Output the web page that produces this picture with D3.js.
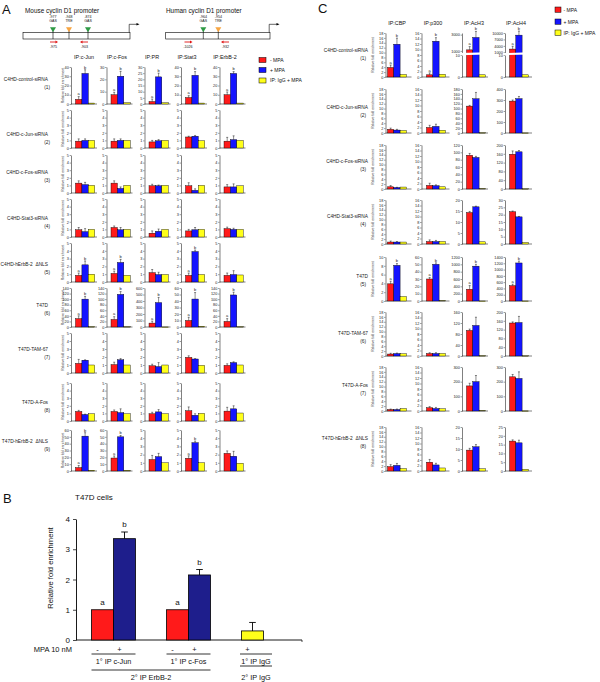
<!DOCTYPE html>
<html><head><meta charset="utf-8">
<script src="https://cdn.jsdelivr.net/npm/d3@7"></script>
<style>body{margin:0;background:#fff}svg{display:block}</style>
</head><body><svg id="c" width="600" height="682"></svg>
<script>
// ---------------- DATA ----------------
// Panel A
const aCols = ["IP:c-Jun","IP:c-Fos","IP:PR","IP:Stat3","IP:ErbB-2"];
const aRows = [["C4HD-control-siRNA","(1)"],["C4HD-c-Jun-siRNA","(2)"],["C4HD-c-Fos-siRNA","(3)"],["C4HD-Stat3-siRNA","(4)"],["C4HD-hErbB-2\u00a0\u00a0ΔNLS","(5)"],["T47D","(6)"],["T47D-TAM-67","(7)"],["T47D-A-Fos","(8)"],["T47D-hErbB-2\u00a0\u00a0ΔNLS","(9)"]];
const aMax  = [[40,30,30,40,40],[5,5,5,5,5],[5,5,5,5,5],[5,5,5,5,5],[5,5,5,5,5],[140,140,600,60,140],[5,5,5,5,5],[5,5,5,5,5],[60,60,5,5,5]];
const aStep = [[10,10,5,10,10],[1,1,1,1,1],[1,1,1,1,1],[1,1,1,1,1],[1,1,1,1,1],[20,20,100,10,20],[1,1,1,1,1],[1,1,1,1,1],[10,10,1,1,1]];
const aMinus = [[5,7.5,2,7,10],[0.9,0.9,0.8,1.45,0.9],[1.3,1.3,0.95,0.95,0.8],[0.95,1.25,0.5,0.8,1.1],[0.85,1.1,1.2,0.85,0.85],[30,27,60,10,20],[1.2,1.05,0.9,1.95,0.95],[1.25,1.25,0.95,1.35,1.3],[5,19,1.4,1.55,2.15]];
const aMinusErr = [[3,2,2,2,3],[0.3,0.3,0.2,0.1,0.5],[0.3,0.3,0.2,0.4,0.3],[0.3,0.2,0.3,0.2,0.2],[0.3,0.3,0.4,0.3,0.3],[10,10,30,5,10],[0.5,0.3,0.2,0.2,0.2],[0.15,0.2,0.2,0.5,0.5],[3,3,0.5,0.3,0.3]];
const aPlus = [[33,22.5,22,31,33],[1.0,1.0,0.95,1.55,1.1],[1.1,0.6,0.95,0.35,0.8],[0.7,0.95,0.75,0.95,1.0],[2.2,2.5,0.95,3.9,0.95],[100,117,375,43,115],[1.6,1.65,0.8,1.75,1.3],[0.85,1.1,1.2,0.75,1.6],[51,50,1.75,3.45,1.8]];
const aPlusErr = [[4,4,3,4,2],[0.2,0.2,0.15,0.1,0.5],[0.3,0.2,0.1,0.2,0.4],[0.4,0.3,0.3,0.3,0.15],[0.5,0.4,0.3,0.2,0.5],[10,10,80,10,10],[0.05,0.15,0.5,0.05,0.1],[0.05,0.5,0.3,0.2,0.4],[5,2,0.4,0.2,0.6]];
const aIgG = [[1,1,1,1,1],[1,1,1,0.95,1],[1,1,1,1,0.95],[1,1,1,1,1],[1,0.85,0.95,0.95,0.9],[1,1,1,1,1],[1,1,1,0.95,1],[0.95,0.95,0.95,1,1.05],[1,1,1,1,0.95]];
const aSig = [[1,1,1,1,1],[0,0,0,0,0],[0,0,0,0,0],[0,0,0,0,0],[1,1,0,1,0],[1,1,1,1,1],[0,0,0,0,0],[0,0,0,0,0],[1,1,0,1,0]];

// Panel C
const cCols = ["IP:CBP","IP:p300","IP:AcH3","IP:AcH4"];
const cRows = [["C4HD-control-siRNA","(1)"],["C4HD-c-Jun-siRNA","(2)"],["C4HD-c-Fos-siRNA","(3)"],["C4HD-Stat3-siRNA","(4)"],["T47D","(5)"],["T47D-TAM-67","(6)"],["T47D-A-Fos","(7)"],["T47D-hErbB-2\u00a0\u00a0ΔNLS","(8)"]];
const cMax  = [[18,16,null,null],[18,16,180,400],[18,16,120,200],[18,16,20,30],[10,60,1200,1400],[18,16,160,200],[18,16,300,300],[18,16,20,25]];
const cStep = [[2,2,null,null],[2,2,20,100],[2,2,20,40],[2,2,5,5],[2,10,200,200],[2,2,40,40],[2,2,100,100],[2,2,5,5]];
const cMinus = [[3.9,0.8,1125,2500],[1.5,2.0,110,290],[0.9,1.3,92,158],[0.8,0.9,14.3,22],[3.9,30,320,490],[0.8,0.9,93,150],[0.6,1.2,171,233],[1.8,3.2,9.5,17]];
const cMinusErr = [[1,0.7,400,1300],[0.5,0.8,3,10],[0.5,0.8,5,15],[0.4,0.6,0.5,0.5],[0.6,2,100,45],[0.3,0.3,5,5],[0.2,0.4,18,16],[0.8,1,0.8,0.7]];
const cPlus = [[13.4,13,2650,9000],[1.2,2.4,140,312],[0.6,1.2,86,169],[0.8,0.9,16.9,18.5],[8.1,50,950,1210],[1.0,0.9,111,152],[0.6,0.9,200,222],[2.3,2.2,11,16]];
const cPlusErr = [[2.5,1.3,750,1900],[0.3,0.8,26,20],[0.1,0.3,3,6],[0.2,0.4,0.3,0.3],[0.4,2,50,60],[0.2,0.3,30,28],[0.2,0.4,42,45],[0.8,0.6,1,1.5]];
const cIgG = [[1,1,1,1],[1,1,1,1],[0.8,0.8,1,1],[0.8,0.9,1,1],[1,0.5,1,1],[0.9,0.9,1,1],[1,0.8,3,1],[1,1.1,1,1]];
const cSig = [[1,1,1,1],[0,0,0,0],[0,0,0,0],[0,0,0,0],[1,1,1,1],[0,0,0,0],[0,0,0,0],[0,0,0,0]];
// broken axes in row 1 (AcH3, AcH4)
const cBreakUpperDomain = [[800,3200],[900,10000]];
const cBreakUpperTicks = [[1000,3000],[1000,4000,7000,10000]];
const cBreakLowerDomain = [0,10];
const cBreakLowerTicks = [0,10];

// Panel B
const bGroups = ["1° IP c-Jun","1° IP c-Fos","1° IP IgG"];
const bGroupOf = [0,0,1,1,2];
const bSlot = [0,1,0,1,0];
const bValues = [1.0,3.35,1.0,2.15,0.3];
const bErr = [0,0.22,0,0.18,0.28];
const bSign = ["-","+","-","+","+"];
const bLetters = ["a","b","a","b",""];
const bTicks = [0,1,2,3,4];
const bSecondary = ["2° IP ErbB-2","2° IP IgG"];

// Promoters
const mouseSites = [-977,-948,-874];
const mouseSiteTypes = ["GAS","TRE","GAS"];
const mousePrimers = [-975,-903];
const humanSites = [-964,-954];
const humanSiteTypes = ["GAS","TRE"];
const humanPrimers = [-1026,-932];
const legendLabels = ["- MPA","+ MPA","IP: IgG + MPA"];

// ---------------- DRAWING ----------------
const FONT = '"Liberation Sans", Arial, Helvetica, sans-serif';
const RED = "#ff1a1a", BLUE = "#1414ff", YEL = "#ffff1a", NAVY = "#1e1e8c";
const COLORS = [RED, BLUE, YEL];
const svg = d3.select("#c");
const fmt = d3.format("d");

function txt(x, y, s, size, anchor, extra) {
  const t = svg.append("text").attr("x", x).attr("y", y).text(s)
    .attr("font-size", size).attr("font-family", FONT).attr("fill", "#111")
    .attr("text-anchor", anchor || "start");
  if (extra) extra(t);
  return t;
}
function styleAxis(ax, fs, sw) {
  ax.attr("font-size", fs).attr("font-family", FONT);
  ax.select(".domain").attr("stroke-width", sw);
  ax.selectAll(".tick line").attr("stroke-width", sw * 0.8);
  ax.selectAll(".tick text").attr("fill", "#222");
}

function miniChart(o) {
  const g = svg.append("g");
  const y = d3.scaleLinear().domain([0, o.max]).range([o.bottom, o.top]);
  const ax = g.append("g").attr("transform", `translate(${o.x0},0)`)
    .call(d3.axisLeft(y).tickValues(d3.range(0, o.max + o.step / 2, o.step)).tickFormat(fmt).tickSize(1.4).tickSizeOuter(0).tickPadding(0.8));
  styleAxis(ax, 3.8, 0.5);
  g.append("line").attr("x1", o.x0).attr("x2", o.x0 + o.len).attr("y1", o.bottom).attr("y2", o.bottom)
    .attr("stroke", "#000").attr("stroke-width", 0.5);
  const xb = d3.scaleBand().domain([0, 1, 2]).range([o.x0 + o.off, o.x0 + o.off + 3 * o.bw]);
  drawBars(g, xb, y, o.vals, o.errs, o.sig, o.bottom);
}

function drawBars(g, xb, yFor, vals, errs, sig, bottom) {
  vals.forEach((v, i) => {
    const yy = yFor(v);
    g.append("rect").attr("x", xb(i)).attr("width", xb.bandwidth())
      .attr("y", yy).attr("height", Math.max(0.4, bottom - yy))
      .attr("fill", COLORS[i]).attr("stroke", "#000").attr("stroke-width", 0.4);
  });
  vals.forEach((v, i) => {
    const e = errs[i];
    const cx = xb(i) + xb.bandwidth() / 2;
    let topY = yFor(v);
    if (e > 0) {
      const ye = yFor(v + e);
      g.append("line").attr("x1", cx).attr("x2", cx).attr("y1", yFor(v)).attr("y2", ye).attr("stroke", "#000").attr("stroke-width", 0.45);
      g.append("line").attr("x1", cx - 1).attr("x2", cx + 1).attr("y1", ye).attr("y2", ye).attr("stroke", "#000").attr("stroke-width", 0.45);
      topY = ye;
    }
    if (sig && i < 2) {
      g.append("text").attr("x", cx).attr("y", topY - 1.2).text(i === 0 ? "a" : "b")
        .attr("font-size", 4).attr("font-family", FONT).attr("text-anchor", "middle").attr("fill", "#222");
    }
  });
}

function brokenChart(o) {
  const g = svg.append("g");
  const upTop = o.top, upBot = o.top + 19.5, loTop = o.top + 22, bottom = o.bottom;
  const yU = d3.scaleLinear().domain(o.upDomain).range([upBot, upTop]);
  const yL = d3.scaleLinear().domain(cBreakLowerDomain).range([bottom, loTop]);
  const yF = v => v > cBreakLowerDomain[1] ? yU(v) : yL(v);
  const axU = g.append("g").attr("transform", `translate(${o.x0},0)`)
    .call(d3.axisLeft(yU).tickValues(o.upTicks).tickFormat(fmt).tickSize(1.4).tickSizeOuter(0).tickPadding(0.8));
  styleAxis(axU, 3.8, 0.5);
  const axL = g.append("g").attr("transform", `translate(${o.x0},0)`)
    .call(d3.axisLeft(yL).tickValues(cBreakLowerTicks).tickFormat(fmt).tickSize(1.4).tickSizeOuter(0).tickPadding(0.8));
  styleAxis(axL, 3.8, 0.5);
  g.append("line").attr("x1", o.x0).attr("x2", o.x0 + o.len).attr("y1", bottom).attr("y2", bottom)
    .attr("stroke", "#000").attr("stroke-width", 0.5);
  const xb = d3.scaleBand().domain([0, 1, 2]).range([o.x0 + o.off, o.x0 + o.off + 3 * o.bw]);
  drawBars(g, xb, yF, o.vals, o.errs, o.sig, bottom);
  // white break band
  const x1 = o.x0 - 2, x2 = o.x0 + o.off + 3 * o.bw + 1;
  g.append("path").attr("d", `M${x1},${upBot + 0.6} L${x2},${upBot - 0.2} L${x2},${loTop - 0.6} L${x1},${loTop + 0.2} Z`)
    .attr("fill", "#fff");
}

// ---------- Panel A header & promoters ----------
txt(2, 14, "A", 13);
txt(25, 12.5, "Mouse cyclin D1 promoter", 6.4);
txt(166, 12.5, "Human cyclin D1 promoter", 6.4);

function promoter(x0, x1, sites, types, primers, primerDirs, sScale) {
  const bt = 32.3, bb = 39;
  svg.append("rect").attr("x", x0).attr("y", bt).attr("width", x1 - x0).attr("height", bb - bt)
    .attr("fill", "#fff").attr("stroke", "#000").attr("stroke-width", 0.6);
  svg.append("path").attr("d", `M${x1 - 0.8},${bt} L${x1 - 0.8},24.3 L${x1 + 7},24.3`).attr("fill", "none").attr("stroke", "#000").attr("stroke-width", 0.6);
  svg.append("path").attr("d", `M${x1 + 9.5},24.3 L${x1 + 6.5},23 L${x1 + 6.5},25.6 Z`).attr("fill", "#000");
  sites.forEach((s, i) => {
    const x = sScale(s);
    svg.append("line").attr("x1", x).attr("x2", x).attr("y1", 30).attr("y2", bb).attr("stroke", "#000").attr("stroke-width", 0.6);
    svg.append("path").attr("d", `M${x - 3},27.3 L${x + 3},27.3 L${x},32.3 Z`).attr("fill", types[i] === "GAS" ? "#2e9a44" : "#f7a541");
    txt(x, 18.3, String(s), 3.6, "middle");
    txt(x, 22.3, types[i], 3.6, "middle");
  });
  primers.forEach((p, i) => {
    const x = sScale(p), d = primerDirs[i], y = 42;
    svg.append("line").attr("x1", x - 3.5 * d).attr("x2", x + 2.5 * d).attr("y1", y).attr("y2", y).attr("stroke", "#e01010").attr("stroke-width", 0.9);
    svg.append("path").attr("d", `M${x + 4.5 * d},${y} L${x + 2 * d},${y - 1.4} L${x + 2 * d},${y + 1.4} Z`).attr("fill", "#e01010");
    txt(x, 48, String(p), 3.6, "middle");
  });
}
promoter(23, 130, mouseSites, mouseSiteTypes, mousePrimers, [1, -1],
  d3.scaleLinear().domain([-977, -975, -948, -903, -874]).range([53, 53.5, 69, 84.5, 88]));
promoter(165.7, 270, humanSites, humanSiteTypes, humanPrimers, [1, -1],
  d3.scaleLinear().domain([-1026, -964, -954, -932]).range([188, 203.3, 218.3, 225.5]));

// ---------- Panel A grid ----------
const aAxisX = [71, 106.5, 144.5, 181, 219.5];
const aHeadX = [84, 117, 152, 187, 225];
const aRowTop = [67, 110, 155, 199, 243, 288, 333, 383, 430];
const aRowBot = [104, 148, 193, 237, 282, 327, 373, 421, 471];
const aLabelDy = [14, 26, 19, 21, 23, 19, 18, 21, 13];
aCols.forEach((c, j) => txt(aHeadX[j], 59, c, 5.4, "middle"));
aRows.forEach((r, i) => {
  txt(48, aRowTop[i] + aLabelDy[i], r[0], 4.8, "end", t => t.attr("fill", "#222"));
  txt(50, aRowTop[i] + aLabelDy[i] + 7.5, r[1], 4.8, "end", t => t.attr("fill", "#222"));
  txt(0, 0, "Relative fold enrichment", 3.3, "middle", t => t.attr("fill", "#333")
    .attr("transform", `translate(63.5,${(aRowTop[i] + aRowBot[i]) / 2}) rotate(-90)`));
  aCols.forEach((c, j) => {
    miniChart({
      x0: aAxisX[j], top: aRowTop[i], bottom: aRowBot[i], len: 26, off: 4.5, bw: 6.4,
      max: aMax[i][j], step: aStep[i][j],
      vals: [aMinus[i][j], aPlus[i][j], aIgG[i][j]],
      errs: [aMinusErr[i][j], aPlusErr[i][j], 0],
      sig: aSig[i][j]
    });
  });
});
// legend A
legendLabels.forEach((l, i) => {
  const y = [57.5, 67.5, 78][i];
  svg.append("rect").attr("x", 259).attr("y", y).attr("width", 7).attr("height", 5)
    .attr("fill", COLORS[i]).attr("stroke", "#000").attr("stroke-width", 0.5);
  txt(270, y + 4.4, l, 5);
});

// ---------- Panel C ----------
txt(318, 13, "C", 13);
const cAxisX = [385.5, 421.5, 462, 505];
const cLen = [26, 28, 26, 27];
const cOff = [2, 5, 4.5, 4.5];
const cHeadX = [397, 433, 474, 516];
const cRowTop = [33, 89, 145, 200, 257, 312, 367, 427];
const cLabelDy = [19, 20, 18, 18, 21, 23, 20, 13];
cCols.forEach((c, j) => txt(cHeadX[j], 24.5, c, 5.4, "middle"));
cRows.forEach((r, i) => {
  const top = cRowTop[i], bot = top + 44;
  txt(368, top + cLabelDy[i], r[0], 4.8, "end", t => t.attr("fill", "#222"));
  txt(366, top + cLabelDy[i] + 7.5, r[1], 4.8, "end", t => t.attr("fill", "#222"));
  txt(0, 0, "Relative fold enrichment", 3.3, "middle", t => t.attr("fill", "#333")
    .attr("transform", `translate(373.5,${(top + bot) / 2}) rotate(-90)`));
  cCols.forEach((c, j) => {
    const o = {
      x0: cAxisX[j], top: top, bottom: bot, len: cLen[j], off: cOff[j], bw: 6.3,
      max: cMax[i][j], step: cStep[i][j],
      vals: [cMinus[i][j], cPlus[i][j], cIgG[i][j]],
      errs: [cMinusErr[i][j], cPlusErr[i][j], 0],
      sig: cSig[i][j]
    };
    if (cMax[i][j] === null) {
      o.upDomain = cBreakUpperDomain[j - 2];
      o.upTicks = cBreakUpperTicks[j - 2];
      brokenChart(o);
    } else miniChart(o);
  });
});
legendLabels.forEach((l, i) => {
  const y = [7, 19, 30][i];
  svg.append("rect").attr("x", 555).attr("y", y).attr("width", 6).attr("height", 5.3)
    .attr("fill", COLORS[i]).attr("stroke", "#000").attr("stroke-width", 0.5);
  txt(563.5, y + 4.5, l, 5);
});

// ---------- Panel B ----------
txt(3, 503, "B", 13);
txt(75, 500, "T47D cells", 8);
const bY = d3.scaleLinear().domain([0, 4]).range([640, 519]);
const bX0 = d3.scaleBand().domain(d3.range(bGroups.length)).range([76, 301]);
const bBW = 22;
const bCenter = g => bX0(g) + bX0.bandwidth() / 2;
const bBarX = i => bCenter(bGroupOf[i]) - bBW + bSlot[i] * bBW;
const bColors = [RED, NAVY, RED, NAVY, YEL];
const bax = svg.append("g").attr("transform", "translate(76,0)")
  .call(d3.axisLeft(bY).tickValues(bTicks).tickFormat(fmt).tickSize(3).tickSizeOuter(0).tickPadding(3));
styleAxis(bax, 8, 0.9);
bax.selectAll(".tick text").attr("fill", "#111");
svg.append("line").attr("x1", 76).attr("x2", 302).attr("y1", 640).attr("y2", 640).attr("stroke", "#000").attr("stroke-width", 0.9);
svg.append("line").attr("x1", 302).attr("x2", 302).attr("y1", 640).attr("y2", 642).attr("stroke", "#000").attr("stroke-width", 0.7);
txt(0, 0, "Relative fold enrichment", 7.6, "middle", t => t.attr("transform", "translate(52.5,568) rotate(-90)"));
bValues.forEach((v, i) => {
  const x = bBarX(i);
  svg.append("rect").attr("x", x).attr("y", bY(v)).attr("width", bBW).attr("height", 640 - bY(v))
    .attr("fill", bColors[i]).attr("stroke", "#000").attr("stroke-width", 0.8);
  const cx = x + bBW / 2;
  let topY = bY(v);
  if (bErr[i] > 0) {
    const ye = bY(v + bErr[i]);
    svg.append("line").attr("x1", cx).attr("x2", cx).attr("y1", bY(v)).attr("y2", ye).attr("stroke", "#000").attr("stroke-width", 0.9);
    svg.append("line").attr("x1", cx - 3.3).attr("x2", cx + 3.3).attr("y1", ye).attr("y2", ye).attr("stroke", "#000").attr("stroke-width", 0.9);
    topY = ye;
  }
  if (bLetters[i]) txt(cx, topY - 5, bLetters[i], 8, "middle");
  txt(cx - 5, 652, bSign[i], 7.5, "middle");
});
txt(72, 652, "MPA 10 nM", 7.5, "end");
bGroups.forEach((gname, g) => {
  const idx = bGroupOf.map((d, i) => d === g ? i : -1).filter(i => i >= 0);
  let xa = d3.min(idx, i => bBarX(i)), xz = d3.max(idx, i => bBarX(i) + bBW);
  let cx = (xa + xz) / 2;
  if (idx.length === 1) { cx = bCenter(g) - 7.5; xa = cx - 16; xz = cx + 16; }
  svg.append("line").attr("x1", xa).attr("x2", xz).attr("y1", 654).attr("y2", 654).attr("stroke", "#000").attr("stroke-width", 0.8);
  txt(cx, 664, gname, 7.3, "middle");
  if (idx.length === 1) {
    svg.append("line").attr("x1", xa).attr("x2", xz).attr("y1", 666).attr("y2", 666).attr("stroke", "#000").attr("stroke-width", 0.8);
    txt(cx, 680, bSecondary[1], 7.3, "middle");
  }
});
{
  const xa = bBarX(0), xz = bBarX(3) + bBW;
  svg.append("line").attr("x1", xa).attr("x2", xz).attr("y1", 670).attr("y2", 670).attr("stroke", "#000").attr("stroke-width", 0.8);
  txt((xa + xz) / 2, 680, bSecondary[0], 7.3, "middle");
}
</script></body></html>
